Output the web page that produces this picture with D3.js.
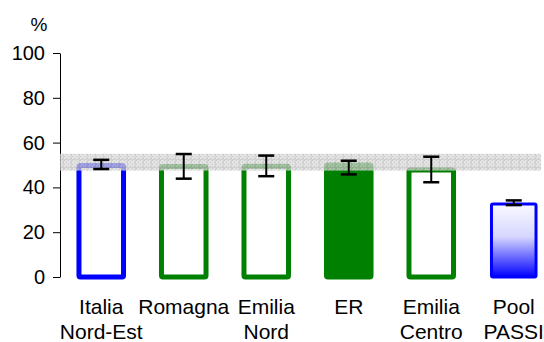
<!DOCTYPE html>
<html>
<head>
<meta charset="utf-8">
<script src="https://cdn.jsdelivr.net/npm/d3@7"></script>
<style>
  html, body { margin: 0; padding: 0; background: #fff; overflow: hidden; }
  svg { display: block; font-family: "Liberation Sans", Arial, sans-serif; }
</style>
</head>
<body>
<div id="chart"></div>
<script>
const width = 544;
const height = 342;

// data
const labels = [["Italia", "Nord-Est"], ["Romagna"], ["Emilia", "Nord"], ["ER"], ["Emilia", "Centro"], ["Pool", "PASSI"]];
const values = [49.8, 49.3, 49.4, 50.0, 47.8, 32.6];
const lower = [48.2, 43.9, 45.0, 45.8, 42.3, 32.1];
const upper = [52.3, 54.9, 54.2, 51.9, 53.7, 34.2];
const kinds = ["blue", "green", "green", "filled", "green", "gradient"];
const band = [47.5, 55.0];
const yTicks = [0, 20, 40, 60, 80, 100];

const margin = {l: 60, r: 0, t: 53, b: 65};

const svg = d3.select("#chart").append("svg")
  .attr("width", width)
  .attr("height", height);

const defs = svg.append("defs");
const grad = defs.append("linearGradient")
  .attr("id", "poolGrad")
  .attr("x1", 0).attr("y1", 0).attr("x2", 0).attr("y2", 1);
grad.append("stop").attr("offset", "0%").attr("stop-color", "#fafaff");
grad.append("stop").attr("offset", "45%").attr("stop-color", "#d6d6ff");
grad.append("stop").attr("offset", "100%").attr("stop-color", "#0000ff");

// checkered grey band pattern
const pat = defs.append("pattern")
  .attr("id", "bandPat")
  .attr("patternUnits", "userSpaceOnUse")
  .attr("width", 8).attr("height", 8);
pat.append("rect").attr("width", 8).attr("height", 8).attr("fill", "#d8d8d8");
for (let i = 0; i < 4; i++) {
  for (let j = 0; j < 4; j++) {
    if ((i + j) % 2 === 0) {
      pat.append("rect").attr("x", i * 2).attr("y", j * 2).attr("width", 1).attr("height", 1).attr("fill", "#b8b8b8");
    }
  }
}
pat.append("rect").attr("x", 7).attr("y", 0).attr("width", 1).attr("height", 8).attr("fill", "#c0c0c0");
pat.append("rect").attr("x", 0).attr("y", 7).attr("width", 8).attr("height", 1).attr("fill", "#c0c0c0");

const y = d3.scaleLinear().domain([0, 100]).range([277, 53]);
const x = d3.scaleBand()
  .domain(d3.range(labels.length))
  .range([60, 555])
  .paddingInner(0.46)
  .paddingOuter(0.23);

// y axis
const yAxis = d3.axisLeft(y)
  .tickValues(yTicks)
  .tickSize(7)
  .tickSizeOuter(0)
  .tickPadding(8);

const gy = svg.append("g")
  .attr("transform", `translate(${margin.l},0)`)
  .call(yAxis);
gy.select(".domain").attr("stroke", "#000").attr("stroke-width", 1);
gy.selectAll(".tick line").attr("stroke", "#000");
gy.selectAll(".tick text")
  .attr("fill", "#000")
  .style("font-size", "20px")
  .style("font-family", "Liberation Sans, Arial, sans-serif");

svg.append("text")
  .attr("x", 39)
  .attr("y", 31)
  .attr("text-anchor", "middle")
  .style("font-size", "19px")
  .text("%");

// bars
const colorOf = k => k === "blue" || k === "gradient" ? "#0000ff" : "#008000";

svg.append("g").selectAll("rect")
  .data(values)
  .join("rect")
  .attr("x", (d, i) => x(i))
  .attr("y", d => y(d))
  .attr("width", x.bandwidth())
  .attr("height", d => y(0) - y(d))
  .attr("rx", 1.5)
  .attr("fill", (d, i) => kinds[i] === "filled" ? "#008000" : kinds[i] === "gradient" ? "url(#poolGrad)" : "#fff")
  .attr("stroke", (d, i) => colorOf(kinds[i]))
  .attr("stroke-width", (d, i) => kinds[i] === "gradient" ? 3 : 5)
  .attr("stroke-linejoin", "round");

// reference band drawn over the bars
svg.append("rect")
  .attr("x", 60)
  .attr("y", y(band[1]))
  .attr("width", 481)
  .attr("height", y(band[0]) - y(band[1]))
  .attr("fill", "url(#bandPat)")
  .attr("opacity", 0.75);

// error bars
const eb = svg.append("g").attr("stroke", "#000");
values.forEach((v, i) => {
  const cx = x(i) + x.bandwidth() / 2;
  eb.append("line")
    .attr("x1", cx).attr("x2", cx)
    .attr("y1", y(upper[i])).attr("y2", y(lower[i]))
    .attr("stroke-width", 2);
  for (let e of [upper[i], lower[i]]) {
    eb.append("line")
      .attr("x1", cx - 8).attr("x2", cx + 8)
      .attr("y1", y(e)).attr("y2", y(e))
      .attr("stroke-width", 2.5);
  }
});

// category labels
const lg = svg.append("g")
  .style("font-size", "21px")
  .attr("text-anchor", "middle");
labels.forEach((lines, i) => {
  const cx = x(i) + x.bandwidth() / 2;
  lines.forEach((t, j) => {
    lg.append("text")
      .attr("x", cx)
      .attr("y", 314 + j * 25)
      .text(t);
  });
});
</script>
</body>
</html>
